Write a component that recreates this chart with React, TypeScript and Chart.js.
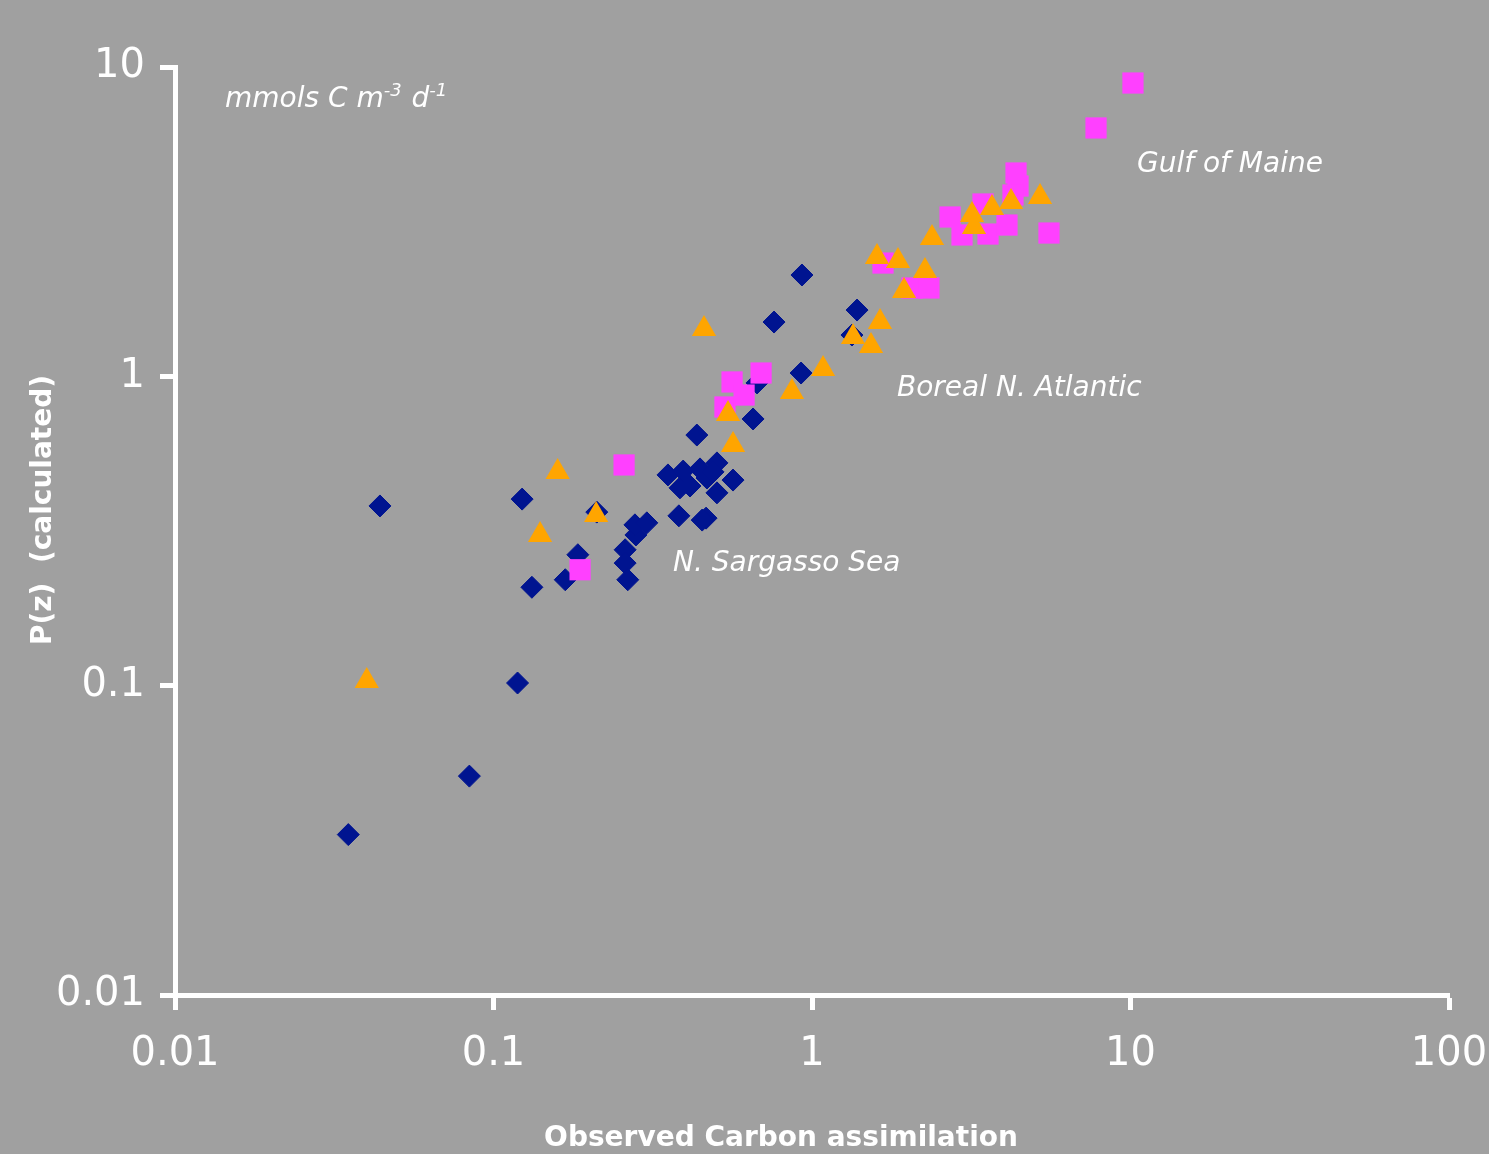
import React, { useEffect, useRef } from "react";
import { Chart, registerables } from "chart.js";

Chart.register(...registerables);

// ---- Data ----
const sargassoX = [0.035, 0.044, 0.084, 0.119, 0.123, 0.132, 0.168, 0.184, 0.211, 0.259, 0.259, 0.264, 0.28, 0.278, 0.303, 0.353, 0.385, 0.394, 0.414, 0.445, 0.468, 0.503, 0.489, 0.565, 0.503, 0.382, 0.465, 0.452, 0.435, 0.653, 0.672, 0.924, 0.93, 0.76, 1.385, 1.335];
const sargassoY = [0.033, 0.381, 0.051, 0.102, 0.401, 0.208, 0.22, 0.265, 0.364, 0.275, 0.249, 0.22, 0.307, 0.331, 0.336, 0.48, 0.436, 0.494, 0.442, 0.502, 0.469, 0.525, 0.491, 0.462, 0.42, 0.354, 0.348, 0.343, 0.646, 0.728, 0.952, 1.025, 2.126, 1.498, 1.638, 1.36];

const borealX = [0.04, 0.14, 0.159, 0.21, 0.458, 0.565, 0.545, 0.865, 1.083, 1.345, 1.532, 1.635, 1.6, 1.862, 1.945, 2.263, 2.381, 3.18, 3.226, 3.673, 4.216, 5.199];
const borealY = [0.1035, 0.307, 0.491, 0.356, 1.422, 0.6, 0.756, 0.89, 1.056, 1.34, 1.253, 1.498, 2.431, 2.359, 1.887, 2.19, 2.801, 3.322, 3.039, 3.501, 3.661, 3.8];

const maineX = [0.187, 0.257, 0.533, 0.561, 0.612, 0.692, 1.671, 2.061, 2.329, 2.713, 2.958, 3.443, 3.57, 4.095, 4.371, 4.435, 4.276, 5.547, 7.794, 10.18];
const maineY = [0.237, 0.517, 0.796, 0.959, 0.87, 1.025, 2.324, 1.93, 1.93, 3.274, 2.864, 3.607, 2.884, 3.084, 4.543, 4.123, 3.857, 2.906, 6.352, 8.876];

const axisTicks = [0.01, 0.1, 1, 10, 100];
const xAxisTitle = "Observed Carbon assimilation";
const yAxisTitle = "P(z)  (calculated)";

// region labels anchored in data coordinates (left edge, baseline)
const regionLabels = ["Gulf of Maine", "Boreal N. Atlantic", "N. Sargasso Sea"];
const regionLabelX = [10.48, 1.849, 0.366];
const regionLabelY = [4.58, 0.864, 0.2348];
const unitsAnchor = [0.01436, 7.42];

const BG = "#a0a0a0";
const FONT = '"DejaVu Sans", Verdana, sans-serif';

const toPoints = (xs: number[], ys: number[]) => xs.map((x, i) => ({ x, y: ys[i] }));

const bgPlugin = {
  id: "bg",
  beforeDraw(chart: any) {
    const ctx = chart.ctx;
    ctx.save();
    ctx.fillStyle = BG;
    ctx.fillRect(0, 0, chart.width, chart.height);
    ctx.restore();
  },
};

const textPlugin = {
  id: "texts",
  afterDraw(chart: any) {
    const ctx = chart.ctx;
    const xs = chart.scales.x;
    const ys = chart.scales.y;
    ctx.save();
    ctx.fillStyle = "#ffffff";
    ctx.textBaseline = "alphabetic";
    ctx.textAlign = "left";
    ctx.font = `italic 28px ${FONT}`;
    regionLabels.forEach((t, i) => {
      ctx.fillText(t, xs.getPixelForValue(regionLabelX[i]), ys.getPixelForValue(regionLabelY[i]));
    });
    // units label with superscripts
    let ux = xs.getPixelForValue(unitsAnchor[0]);
    const uy = ys.getPixelForValue(unitsAnchor[1]);
    const parts: [string, boolean][] = [["mmols C m", false], ["-3", true], [" d", false], ["-1", true]];
    parts.forEach(([t, sup]) => {
      ctx.font = sup ? `italic 18px ${FONT}` : `italic 28px ${FONT}`;
      ctx.fillText(t, ux, sup ? uy - 11 : uy);
      ux += ctx.measureText(t).width + (sup ? 1 : 0);
    });
    // axis titles
    ctx.font = `bold 28px ${FONT}`;
    ctx.textAlign = "center";
    ctx.fillText(xAxisTitle, 781, 1146);
    ctx.translate(44, 510);
    ctx.rotate(-Math.PI / 2);
    ctx.textBaseline = "middle";
    ctx.fillText(yAxisTitle, 0, 0);
    ctx.restore();
  },
};

const decadeTicks = (scale: any) => {
  scale.ticks = axisTicks
    .filter((v) => v >= scale.min - 1e-12 && v <= scale.max + 1e-9)
    .map((v) => ({ value: v }));
};

export default function App() {
  const ref = useRef<HTMLCanvasElement>(null);
  useEffect(() => {
    document.body.style.margin = "0";
    document.body.style.background = BG;
    const canvas = ref.current!;
    const chart = new Chart(canvas, {
      type: "scatter",
      data: {
        datasets: [
          {
            label: "N. Sargasso Sea",
            data: toPoints(sargassoX, sargassoY),
            pointStyle: "rectRot",
            pointRadius: 11,
            backgroundColor: "#001490",
            borderColor: "#001490",
            borderWidth: 1,
            order: 3,
          },
          {
            label: "Gulf of Maine",
            data: toPoints(maineX, maineY),
            pointStyle: "rect",
            pointRadius: 15,
            backgroundColor: "#ff40ff",
            borderColor: "#ff40ff",
            borderWidth: 0,
            order: 2,
          },
          {
            label: "Boreal N. Atlantic",
            data: toPoints(borealX, borealY),
            pointStyle: "triangle",
            pointRadius: 14,
            backgroundColor: "#ffa500",
            borderColor: "#ffa500",
            borderWidth: 0,
            order: 1,
          },
        ],
      },
      options: {
        responsive: false,
        animation: false,
        events: [],
        layout: { padding: { top: 67, right: 40, left: 0, bottom: 0 } },
        plugins: { legend: { display: false }, tooltip: { enabled: false }, title: { display: false } },
        scales: {
          x: {
            type: "logarithmic",
            min: 0.01,
            max: 100,
            afterBuildTicks: decadeTicks,
            afterFit: (s: any) => {
              s.height = 159;
              s.paddingLeft = 0;
              s.paddingRight = 0;
            },
            border: { display: true, color: "#ffffff", width: 5 },
            grid: { display: true, drawOnChartArea: false, drawTicks: true, tickLength: 15, tickWidth: 5, tickColor: "#ffffff", color: "#ffffff" },
            ticks: {
              color: "#ffffff",
              font: { family: FONT, size: 40 },
              padding: 21,
              maxRotation: 0,
              autoSkip: false,
              callback: (v: any) => String(v),
            },
          },
          y: {
            type: "logarithmic",
            min: 0.01,
            max: 10,
            afterBuildTicks: decadeTicks,
            afterFit: (s: any) => {
              s.width = 175;
              s.paddingTop = 0;
              s.paddingBottom = 0;
            },
            border: { display: true, color: "#ffffff", width: 5 },
            grid: { display: true, drawOnChartArea: false, drawTicks: true, tickLength: 15, tickWidth: 5, tickColor: "#ffffff", color: "#ffffff" },
            ticks: {
              color: "#ffffff",
              font: { family: FONT, size: 40 },
              padding: 15,
              autoSkip: false,
              callback: (v: any) => String(v),
            },
          },
        },
      },
      plugins: [bgPlugin, textPlugin],
    } as any);
    return () => chart.destroy();
  }, []);
  return <canvas ref={ref} width={1489} height={1154} style={{ display: "block" }} />;
}
